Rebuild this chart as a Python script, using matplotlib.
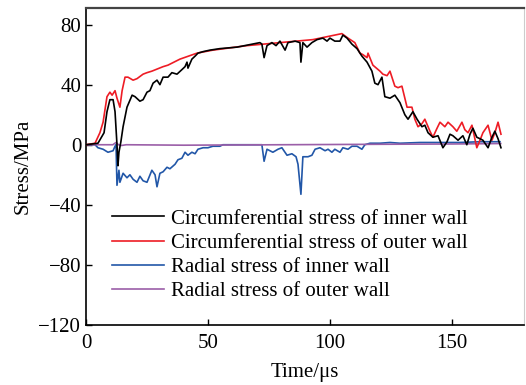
import matplotlib
matplotlib.use("Agg")
import matplotlib.pyplot as plt

plt.rcParams['font.family'] = ['Liberation Serif', 'DejaVu Serif']
plt.rcParams['mathtext.fontset'] = 'stix'

# Circumferential stress of inner wall
t_ci = [0, 4.9, 7.4, 8.6, 9.8, 11.1, 11.9, 12.7, 13.1, 13.5, 14.3, 15.2, 16.8, 18.9, 20.1, 22.1, 23.4,
        25.0, 26.2, 27.5, 29.1, 30.3, 31.6, 33.6, 35.2, 37.3, 39.3, 40.6, 41.4, 41.8, 43.4, 44.7, 45.9,
        48.0, 50.8, 54.9, 61.9, 71.3, 72.1, 73.0, 74.2, 76.2, 77.9, 79.5, 81.6, 82.8, 85.7, 87.7, 88.1,
        88.9, 90.6, 92.6, 94.7, 97.1, 98.8, 100.0, 102.0, 104.1, 105.3, 107.0, 109.0, 111.1, 113.1,
        115.2, 117.2, 118.4, 119.7, 121.3, 122.5, 124.6, 126.6, 128.7, 130.7, 132.0, 134.0, 135.7,
        137.7, 138.9, 140.2, 142.2, 144.3, 146.3, 148.0, 149.2, 150.4, 152.5, 154.5, 156.1, 157.4,
        158.6, 160.2, 161.5, 162.7, 164.8, 166.4, 167.6, 168.9, 170.1]
s_ci = [0, 1, 8, 22, 30, 30, 22, 0, -14, -5, 2, 12, 25, 33, 32, 29, 30,
        35, 36, 41, 43, 40, 45, 45, 48, 47, 50, 52, 55, 51, 57, 59, 61,
        62, 63, 64, 65, 68, 67, 58, 66, 68, 66, 69, 63, 68, 69, 68, 55,
        68, 65, 68, 70, 71, 69, 71, 69, 69, 73, 71, 67, 64, 59,
        55, 49, 41, 40, 45, 32, 31, 33, 28, 20, 17, 22, 17,
        12, 13, 8, 5, 6, -2, 2, 7, 6, 3, 6, 0, 7,
        11, 5, 4, 3, -2, 5, 9, 4, -2]

# Circumferential stress of outer wall
t_co = [0, 3.7, 5.7, 7.0, 8.6, 9.8, 10.7, 11.9, 12.7, 13.9, 14.8, 16.0, 17.2, 19.3, 20.9, 23.4, 25.0,
        27.0, 31.6, 33.6, 38.5, 45.5, 52.0, 66.0, 79.5, 93.0, 104.9, 107.4, 110.2, 112.3, 113.5, 115.2,
        115.6, 117.6, 120.5, 121.7, 123.4, 124.6, 126.6, 127.9, 129.5, 131.6, 133.6, 134.8, 136.1,
        137.7, 138.9, 141.0, 142.2, 143.9, 145.1, 147.1, 148.4, 150.4, 152.0, 154.1, 155.3, 156.6,
        158.2, 160.2, 161.5, 162.7, 164.8, 166.4, 167.6, 168.9, 170.1]
s_co = [0, 1, 8, 15, 32, 35, 33, 36, 31, 25, 36, 45, 45, 43, 44, 47, 48,
        49, 52, 53, 57, 61, 63, 66, 68, 70, 74, 71, 68, 61, 60, 58,
        61, 53, 49, 47, 46, 49, 39, 38, 39, 25, 25, 17, 12,
        14, 17, 9, 5, 11, 15, 12, 15, 12, 9, 15, 10, 8,
        13, -2, 3, 8, 13, 3, 8, 15, 7]

# Radial stress of inner wall
t_ri = [0, 3.7, 4.9, 7.0, 9.0, 11.1, 11.9, 12.3, 12.7, 13.5, 13.9, 15.2, 16.8, 18.0, 19.3, 20.9, 22.1,
        23.4, 25.0, 27.0, 28.3, 29.1, 30.3, 31.6, 33.2, 34.4, 36.5, 37.7, 39.3, 40.6, 41.8, 43.4, 44.7,
        45.9, 48.0, 50.0, 52.0, 54.9, 56.1, 72.1, 73.0, 74.2, 76.6, 78.7, 80.3, 82.4, 84.4, 86.1, 86.9,
        88.1, 88.9, 91.0, 92.6, 93.9, 95.9, 98.0, 99.2, 100.8, 102.0, 104.1, 105.3, 107.4, 109.0,
        111.1, 113.1, 114.3, 116.4, 120.5, 124.6, 128.7, 137.0, 145.0, 153.0, 161.5, 169.7]
s_ri = [0, 0, -2, -3, -5, -4, -1, 0, -27, -17, -25, -19, -22, -20, -23, -25, -21,
        -24, -25, -17, -20, -28, -19, -18, -15, -16, -13, -10, -9, -5, -7, -5, -6,
        -3, -2, -2, -1, -1, 0, 0, -11, -3, -5, -3, -2, -7, -6, -8, -13,
        -33, -8, -8, -7, -3, -2, -4, -3, -5, -3, -5, -2, -3, -1,
        -1, -3, 0, 1, 1, 1.5, 1, 1.5, 1.5, 1.5, 2, 2]

# Radial stress of outer wall
t_ro = [0, 11.0, 12.3, 13.3, 14.5, 16.5, 40, 80, 120, 150, 170]
s_ro = [0, 0, 1.5, 0, -0.5, 0, -0.3, 0, 0.3, 0.5, 0.8]

labels = ["Circumferential stress of inner wall",
          "Circumferential stress of outer wall",
          "Radial stress of inner wall",
          "Radial stress of outer wall"]
colors = ["#000000", "#ee1c25", "#2257a8", "#9b5fa8"]

fig = plt.figure(figsize=(5.26, 3.85), dpi=100)
ax = fig.add_axes([0.1635, 0.156, 0.8325, 0.823])

ax.plot(t_ci, s_ci, color=colors[0], lw=1.2, label=labels[0], zorder=4)
ax.plot(t_co, s_co, color=colors[1], lw=1.2, label=labels[1], zorder=3)
ax.plot(t_ri, s_ri, color=colors[2], lw=1.2, label=labels[2], zorder=2)
ax.plot(t_ro, s_ro, color=colors[3], lw=1.2, label=labels[3], zorder=2)

fs = 15
ax.set_xlim(0, 179.5)
ax.set_ylim(-120, 91)
ax.set_xticks([0, 50, 100, 150])
ax.set_yticks([-120, -80, -40, 0, 40, 80])
ax.tick_params(direction='in', length=4, width=1, labelsize=fs, top=False, right=False)
ax.tick_params(axis='x', pad=6.5)
ax.set_xlabel("Time/μs", fontsize=fs, labelpad=7)
ax.set_ylabel("Stress/MPa", fontsize=fs, labelpad=4)
ax.spines['top'].set_color('#444444')
ax.spines['top'].set_linewidth(1.6)
ax.spines['right'].set_color('#cccccc')
ax.spines['left'].set_linewidth(1.2)
ax.spines['bottom'].set_linewidth(1.2)

ax.legend(loc='upper left', bbox_to_anchor=(0.213, 0.457), bbox_transform=fig.transFigure,
          frameon=False, fontsize=fs, handlelength=2.5, handletextpad=0.35,
          labelspacing=0.22, borderaxespad=0, borderpad=0)

fig.savefig("out.png", dpi=100)
